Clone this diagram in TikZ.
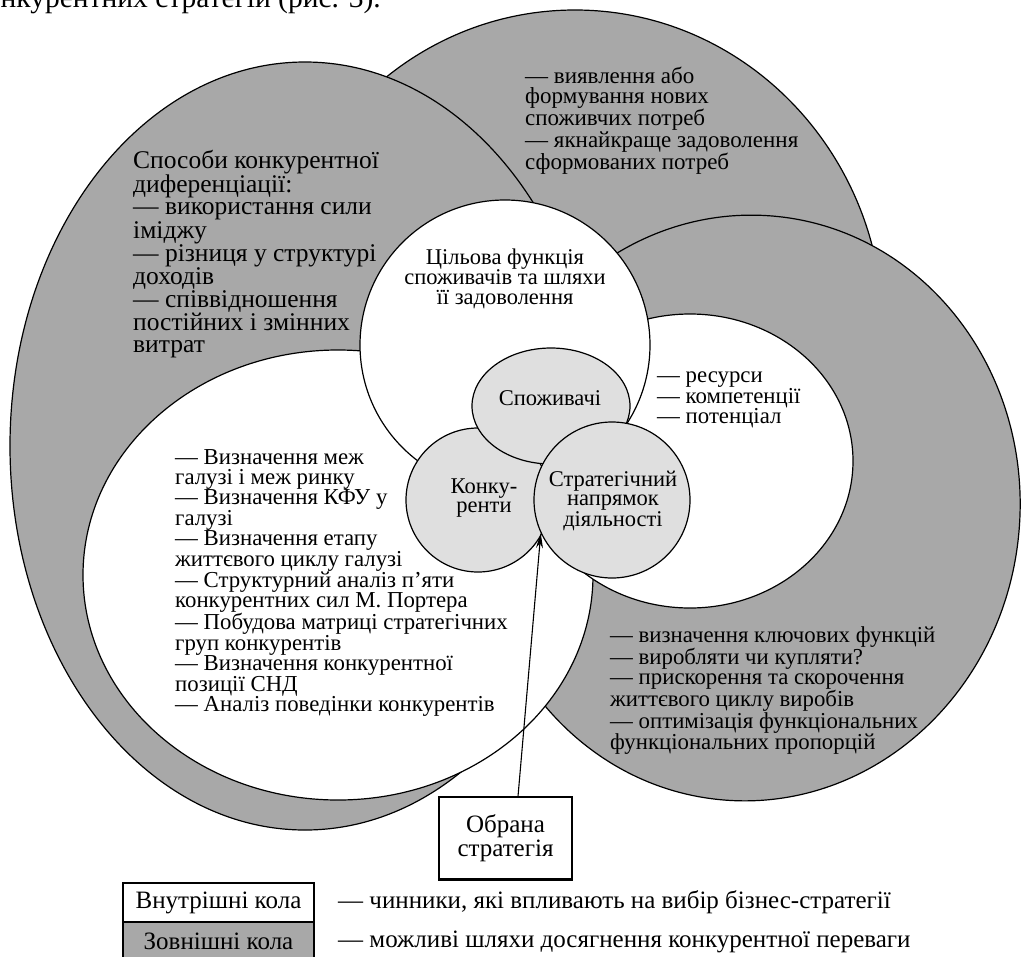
\documentclass[tikz,border=0pt]{standalone}
\usepackage{fontspec}
\setmainfont{Liberation Serif}
\usetikzlibrary{shapes.geometric,arrows.meta}
\definecolor{outergray}{RGB}{168,168,168}
\definecolor{coregray}{RGB}{223,223,223}
\begin{document}
\begin{tikzpicture}[x=1pt,y=-1pt,
  outerring/.style={ellipse,draw=black,line width=1.2pt,fill=outergray,inner sep=0pt},
  innerdisc/.style={ellipse,draw=black,line width=1.2pt,fill=white,inner sep=0pt},
  coredisc/.style={ellipse,draw=black,line width=1.2pt,fill=coregray,inner sep=0pt},
  listtext/.style={anchor=north west,inner sep=0pt,align=left,font=\fontsize{22.8}{20}\selectfont},
  labeltext/.style={inner sep=0pt,align=center,font=\fontsize{22.5}{19}\selectfont},
  legendbox/.style={draw=black,line width=1.2pt,inner sep=0pt,minimum width=191pt,minimum height=39pt,font=\fontsize{25}{26}\selectfont},
  legendtext/.style={anchor=west,inner sep=0pt,font=\fontsize{25}{26}\selectfont}]
\useasboundingbox (0,0) rectangle (1025,956);
% page text fragment
\node[anchor=base east,inner sep=0pt,font=\fontsize{29.5}{31}\selectfont] (pagetext) at (381,7) {конкурентних стратегій (рис. 3).};
% outer grey shapes
\node[outerring,minimum width=616pt,minimum height=640pt] (topo) at (575,330) {};
\node[outerring,minimum width=590pt,minimum height=768pt] (lefto) at (305,446) {};
\node[outerring,minimum width=544pt,minimum height=586pt,rotate=-5] (righto) at (748,508) {};
% inner white shapes
\node[innerdisc,minimum width=510pt,minimum height=450pt] (lefti) at (338,575) {};
\node[innerdisc,minimum width=326pt,minimum height=294pt] (righti) at (690,461) {};
\node[innerdisc,minimum width=290pt,minimum height=290pt] (goal) at (505,345) {};
% core circles
\node[coredisc,minimum width=144pt,minimum height=144pt] (comp) at (478,500) {};
\node[coredisc,minimum width=158pt,minimum height=116pt] (cons) at (551,406) {};
\node[coredisc,minimum width=156pt,minimum height=156pt] (strat) at (612,500) {};
% labels
\node[labeltext,font=\fontsize{22.5}{20}\selectfont] (goaltext) at (505,279) {Цільова функція\\споживачів та шляхи\\її задоволення};
\node[labeltext] (constext) at (550,398) {Споживачі};
\node[labeltext] (comptext) at (484,498) {Конку-\\ренти};
\node[labeltext] (strattext) at (613,501) {Стратегічний\\напрямок\\діяльності};
% lists
\node[listtext,font=\fontsize{25.5}{22.2}\selectfont] (difflist) at (133,150) {Способи конкурентної\\диференціації:\\— використання сили\\іміджу\\— різниця у структурі\\доходів\\— співвідношення\\постійних і змінних\\витрат};
\node[listtext,font=\fontsize{23}{19.7}\selectfont] (needlist) at (525,67) {— виявлення або\\формування нових\\споживчих потреб\\— якнайкраще задоволення\\сформованих потреб};
\node[listtext] (reslist) at (657,372) {— ресурси\\— компетенції\\— потенціал};
\node[listtext] (anlist) at (175,449) {— Визначення меж\\галузі і меж ринку\\— Визначення КФУ у\\галузі\\— Визначення етапу\\життєвого циклу галузі\\— Структурний аналіз п’яти\\конкурентних сил М. Портера\\— Побудова матриці стратегічних\\груп конкурентів\\— Визначення конкурентної\\позиції СНД\\— Аналіз поведінки конкурентів};
\node[listtext] (funclist) at (610,626) {— визначення ключових функцій\\— виробляти чи купляти?\\— прискорення та скорочення\\життєвого циклу виробів\\— оптимізація функціональних\\функціональних пропорцій};
% chosen strategy box and arrow
\node[draw=black,line width=1.2pt,fill=white,inner sep=0pt,minimum width=133pt,minimum height=82pt,align=center,font=\fontsize{25}{24}\selectfont] (choice) at (505.5,838) {Обрана\\стратегія};
\draw[line width=2.4pt] (choice.south west) -- (choice.south east);
\draw[line width=1.1pt,-{Stealth[length=15pt,width=7pt]}] ([xshift=12.5pt]choice.north) -- (strat.205);
% legend
\node[legendbox,fill=white] (leg1) at (218.5,902.5) {Внутрішні кола};
\node[legendbox,fill=outergray] (leg2) at (218.5,941.5) {Зовнішні кола};
\node[legendtext] (leg1t) at (338,902) {— чинники, які впливають на вибір бізнес-стратегії};
\node[legendtext] (leg2t) at (338,942) {— можливі шляхи досягнення конкурентної переваги};
\end{tikzpicture}
\end{document}
